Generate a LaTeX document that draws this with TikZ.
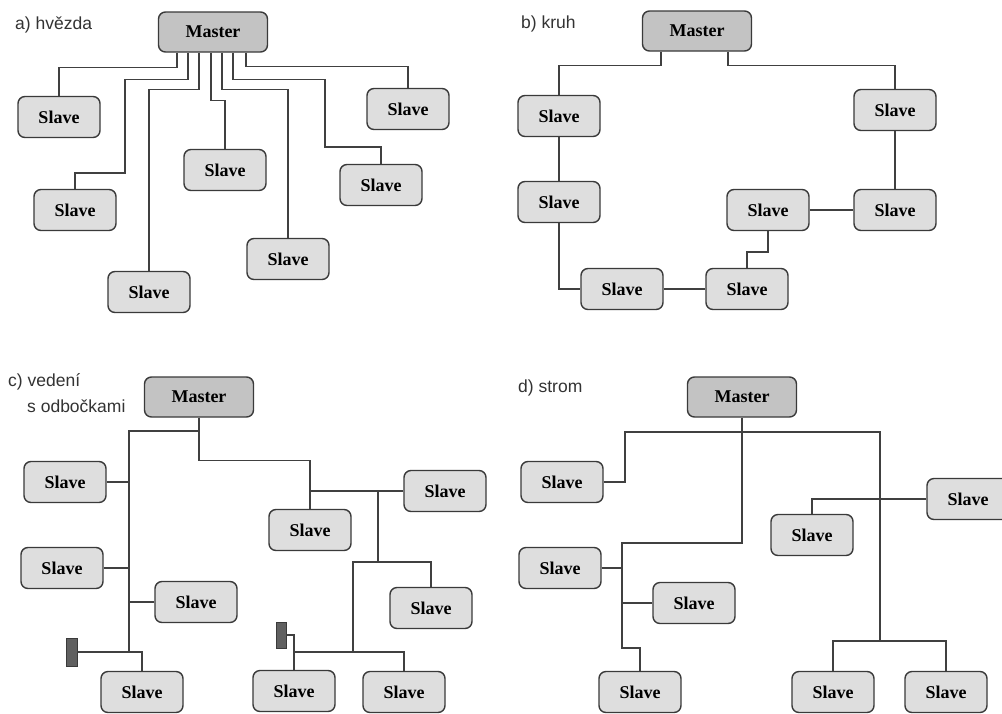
\documentclass[tikz,border=0pt]{standalone}
\usepackage{fontspec}
\setmainfont{Liberation Serif}
\newfontfamily\labelfont{Liberation Sans}
\definecolor{slavefill}{HTML}{DEDEDE}
\definecolor{masterfill}{HTML}{C3C3C3}
\definecolor{edge}{HTML}{3A3A3A}
\definecolor{wire}{HTML}{404040}
\definecolor{termfill}{HTML}{606060}
\definecolor{labelcol}{HTML}{333333}
\begin{document}
\begin{tikzpicture}[x=1pt,y=-1pt,
  box/.style={draw=edge, line width=1.4pt, rounded corners=7pt, inner sep=0pt,
    font=\fontsize{18}{21}\selectfont\bfseries},
  slave/.style={box, fill=slavefill, minimum width=82pt, minimum height=41pt},
  master/.style={box, fill=masterfill, minimum width=109pt, minimum height=40pt},
  term/.style={draw=edge, fill=termfill, line width=0.8pt, inner sep=0pt},
  wire/.style={draw=wire, line width=1.4pt},
  caption/.style={font=\labelfont\fontsize{17.5}{20}\selectfont, text=labelcol, anchor=west, inner sep=0pt}]
\useasboundingbox (0,0) rectangle (1002,713);
\clip (0,0) rectangle (1002,713);
\fill[white] (0,0) rectangle (1002,713);

% ---------- a) hvezda ----------
\node[caption] (la) at (15,25) {a) hvězda};
\node[master] (am) at (213,32) {Master};
\node[slave] (a1) at (59,117) {Slave};
\node[slave] (a2) at (75,210) {Slave};
\node[slave] (a3) at (149,292) {Slave};
\node[slave] (a4) at (225,170) {Slave};
\node[slave] (a5) at (288,259) {Slave};
\node[slave] (a6) at (381,185) {Slave};
\node[slave] (a7) at (408,109) {Slave};
\draw[wire] ([xshift=-36pt]am.south) -- ++(0,15) -| (a1.north);
\draw[wire] ([xshift=-25pt]am.south) -- ++(0,27) -| (125,173) -| (a2.north);
\draw[wire] ([xshift=-14pt]am.south) -- ++(0,37) -| (a3.north);
\draw[wire] ([xshift=-2pt]am.south) -- ++(0,48) -| (a4.north);
\draw[wire] ([xshift=9pt]am.south) -- ++(0,37) -| (a5.north);
\draw[wire] ([xshift=20pt]am.south) -- ++(0,27) -| (325,147) -| (a6.north);
\draw[wire] ([xshift=33pt]am.south) -- ++(0,14) -| (a7.north);

% ---------- b) kruh ----------
\node[caption] (lb) at (521,24) {b) kruh};
\node[master] (bm) at (697,31) {Master};
\node[slave] (b1) at (559,116) {Slave};
\node[slave] (b2) at (559,202) {Slave};
\node[slave] (b3) at (622,289) {Slave};
\node[slave] (b4) at (747,289) {Slave};
\node[slave] (b5) at (768,210) {Slave};
\node[slave] (b6) at (895,210) {Slave};
\node[slave] (b7) at (895,110) {Slave};
\draw[wire] ([xshift=-36pt]bm.south) -- ++(0,14) -| (b1.north);
\draw[wire] (b1.south) -- (b2.north);
\draw[wire] (b2.south) |- (b3.west);
\draw[wire] (b3.east) -- (b4.west);
\draw[wire] (b4.north) -- ++(0,-16) -| (b5.south);
\draw[wire] (b5.east) -- (b6.west);
\draw[wire] (b6.north) -- (b7.south);
\draw[wire] ([xshift=31pt]bm.south) -- ++(0,14) -| (b7.north);

% ---------- c) vedeni s odbockami ----------
\node[caption] (lc1) at (8,382) {c) vedení};
\node[caption] (lc2) at (27,406) {s odbočkami};
\node[master] (cm) at (199,397) {Master};
\node[slave] (c1) at (65,482) {Slave};
\node[slave] (c2) at (62,568) {Slave};
\node[slave] (c3) at (196,602) {Slave};
\node[slave] (c4) at (142,692) {Slave};
\node[slave] (c5) at (310,530) {Slave};
\node[slave] (c6) at (445,491) {Slave};
\node[slave] (c7) at (431,608) {Slave};
\node[slave] (c8) at (294,691) {Slave};
\node[slave] (c9) at (404,692) {Slave};
\node[term, minimum width=11pt, minimum height=28pt] (ct1) at (71.5,652) {};
\node[term, minimum width=10pt, minimum height=26pt] (ct2) at (281,635) {};
\coordinate (cbus) at (129,431);
\coordinate (cbusend) at (129,653);
\coordinate (cj1) at (378,491);
\coordinate (cj2) at (378,562);
\coordinate (cj3) at (353,562);
\coordinate (cj4) at (353,653);
\coordinate (cb2) at (294,653);
\draw[wire] (cm.south) |- (cbus) -- (cbusend);
\draw[wire] (c1.east) -- (c1.east -| cbus);
\draw[wire] (c2.east) -- (c2.east -| cbus);
\draw[wire] (c3.west) -- (c3.west -| cbus);
\draw[wire] (ct1.east) -| (c4.north);
\draw[wire] (cm.south) -- ++(0,43) -| (c5.north);
\draw[wire] (c6.west) -- (c6.west -| c5.north);
\draw[wire] (cj1) -- (cj2);
\draw[wire] (c7.north) |- (cj3) -- (cj4);
\draw[wire] (c8.north) -- ++(0,-18) -| (c9.north);
\draw[wire] (ct2.east) -| (cb2);

% ---------- d) strom ----------
\node[caption] (ld) at (518,388) {d) strom};
\node[master] (dm) at (742,397) {Master};
\node[slave] (d1) at (562,482) {Slave};
\node[slave] (d2) at (560,568) {Slave};
\node[slave] (d3) at (694,603) {Slave};
\node[slave] (d8) at (640,692) {Slave};
\node[slave] (d4) at (812,535) {Slave};
\node[slave] (d5) at (968,499) {Slave};
\node[slave] (d6) at (833,692) {Slave};
\node[slave] (d7) at (946,692) {Slave};
\coordinate (dt2) at (742,543);
\coordinate (dl) at (622,543);
\coordinate (dlend) at (622,648);
\coordinate (dr) at (880,432);
\coordinate (drend) at (880,641);
\draw[wire] (dm.south) -- (dt2) -- (dl) -- (dlend) -| (d8.north);
\draw[wire] (d2.east) -- (d2.east -| dl);
\draw[wire] (d3.west) -- (d3.west -| dl);
\draw[wire] (d1.east) -| (625,432) -- (dr) -- (drend);
\draw[wire] (d6.north) -- ++(0,-30) -| (d7.north);
\draw[wire] (d4.north) |- (d5.west);
\end{tikzpicture}
\end{document}
